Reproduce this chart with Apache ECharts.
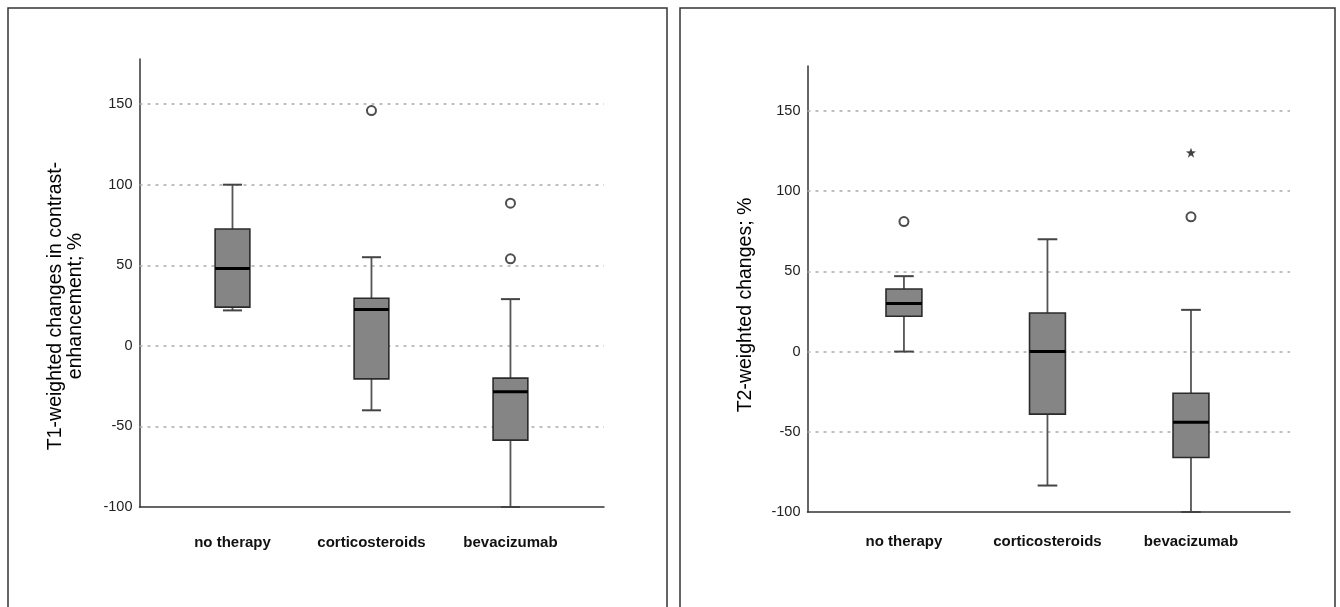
<!DOCTYPE html>
<html>
<head>
<meta charset="utf-8">
<script src="https://cdn.jsdelivr.net/npm/echarts@6/dist/echarts.min.js"></script>
<style>
  html, body { margin: 0; padding: 0; background: #fff; }
  #chart { width: 1340px; height: 607px; }
</style>
</head>
<body>
<div id="chart"></div>
<script>
// ---------- data ----------
const categories = ['no therapy', 'corticosteroids', 'bevacizumab'];
const yTicks = [-100, -50, 0, 50, 100, 150];
const yMin = -100;
const yMax = 178;

// [min whisker, Q1, median, Q3, max whisker]
const t1Stats = [
  [22, 24, 48, 72.5, 100],
  [-40, -20.5, 22.5, 29.5, 55],
  [-100, -58.5, -28.5, -20, 29]
];
const t1Outliers = [[1, 146], [2, 88.5], [2, 54]];

const t2Stats = [
  [0, 22, 30, 39, 47],
  [-83.5, -39, 0, 24, 70],
  [-100, -66, -44, -26, 26]
];
const t2Outliers = [[0, 81], [2, 84]];
const t2Extremes = [[2, 124]];

const t1Title = 'T1-weighted changes in contrast-\nenhancement; %';
const t2Title = 'T2-weighted changes; %';

// ---------- styles ----------
const FONT = '"Liberation Sans", Arial, sans-serif';
const BOX_W = 0.25;
const CAP_W = 0.137;

function renderBox(params, api) {
  const i = api.value(0);
  const x = api.coord([i, 0])[0];
  const py = v => api.coord([i, v])[1];
  const yLo = py(api.value(1)), yQ1 = py(api.value(2)), yMed = py(api.value(3)),
        yQ3 = py(api.value(4)), yHi = py(api.value(5));
  const bw = api.size([BOX_W, 0])[0];
  const cw = api.size([CAP_W, 0])[0];
  const whisker = { stroke: '#555', lineWidth: 1.8 };
  const cap = { stroke: '#444', lineWidth: 2 };
  return {
    type: 'group',
    children: [
      { type: 'line', shape: { x1: x, y1: yHi, x2: x, y2: yQ3 }, style: whisker },
      { type: 'line', shape: { x1: x, y1: yQ1, x2: x, y2: yLo }, style: whisker },
      { type: 'line', shape: { x1: x - cw / 2, y1: yHi, x2: x + cw / 2, y2: yHi }, style: cap },
      { type: 'line', shape: { x1: x - cw / 2, y1: yLo, x2: x + cw / 2, y2: yLo }, style: cap },
      { type: 'rect', shape: { x: x - bw / 2, y: yQ3, width: bw, height: yQ1 - yQ3 },
        style: { fill: '#858585', stroke: '#2b2b2b', lineWidth: 1.6 } },
      { type: 'line', shape: { x1: x - bw / 2, y1: yMed, x2: x + bw / 2, y2: yMed },
        style: { stroke: '#000', lineWidth: 3 } }
    ]
  };
}

function starPath(rOut, rIn) {
  let d = '';
  for (let k = 0; k < 10; k++) {
    const r = k % 2 === 0 ? rOut : rIn;
    const a = -Math.PI / 2 + k * Math.PI / 5;
    d += (k === 0 ? 'M' : 'L') + (r * Math.cos(a)).toFixed(2) + ' ' + (r * Math.sin(a)).toFixed(2) + ' ';
  }
  return 'path://' + d + 'Z';
}

function makeX(gridIndex, min, max, labelMargin) {
  return {
    type: 'value', gridIndex, min, max,
    axisLine: { show: true, onZero: false, lineStyle: { color: '#333', width: 1.5 } },
    axisTick: { show: false, customValues: [0, 1, 2] },
    splitLine: { show: false },
    axisLabel: {
      customValues: [0, 1, 2],
      formatter: v => categories[Math.round(v)] || '',
      margin: labelMargin,
      color: '#111', fontFamily: FONT, fontSize: 15, fontWeight: 'bold'
    }
  };
}

function makeY(gridIndex) {
  return {
    type: 'value', gridIndex, min: yMin, max: yMax,
    axisLine: { show: true, onZero: false, lineStyle: { color: '#333', width: 1.5 } },
    axisTick: { show: false, customValues: yTicks },
    splitLine: { show: false },
    axisLabel: {
      customValues: yTicks,
      margin: 7,
      color: '#222', fontFamily: FONT, fontSize: 14.5
    }
  };
}

function gridMarkLine() {
  return {
    silent: true, symbol: ['none', 'none'], z: 1,
    label: { show: false },
    lineStyle: { type: [3, 5], color: '#aaa', width: 1.5 },
    emphasis: { disabled: true },
    data: yTicks.filter(v => v > yMin).map(v => ({ yAxis: v }))
  };
}

function panelSeries(idx, stats, outliers, extremes) {
  const s = [
    {
      type: 'custom', xAxisIndex: idx, yAxisIndex: idx, z: 3,
      renderItem: renderBox,
      encode: { x: 0, y: [1, 2, 3, 4, 5] },
      data: stats.map((st, i) => [i].concat(st))
    },
    {
      type: 'scatter', xAxisIndex: idx, yAxisIndex: idx, z: 4,
      symbol: 'circle', symbolSize: 9,
      itemStyle: { color: '#fff', borderColor: '#222', borderWidth: 2 },
      data: outliers,
      markLine: gridMarkLine()
    }
  ];
  if (extremes) {
    s.push({
      type: 'scatter', xAxisIndex: idx, yAxisIndex: idx, z: 4,
      symbol: starPath(5, 2), symbolSize: 10,
      itemStyle: { color: '#111' },
      data: extremes
    });
  }
  return s;
}

const chart = echarts.init(document.getElementById('chart'), null, { renderer: 'canvas' });
chart.setOption({
  animation: false,
  backgroundColor: '#fff',
  grid: [
    { left: 139.5, top: 59, width: 464.5, height: 448 },
    { left: 807.5, top: 66, width: 482.5, height: 446 }
  ],
  xAxis: [makeX(0, -0.669, 2.673, 28), makeX(1, -0.672, 2.69, 22)],
  yAxis: [makeY(0), makeY(1)],
  series: [].concat(
    panelSeries(0, t1Stats, t1Outliers, null),
    panelSeries(1, t2Stats, t2Outliers, t2Extremes)
  ),
  graphic: [
    { type: 'rect', shape: { x: 8, y: 8, width: 659, height: 620 }, silent: true,
      style: { fill: 'none', stroke: '#333', lineWidth: 1.5 } },
    { type: 'rect', shape: { x: 680, y: 8, width: 655, height: 620 }, silent: true,
      style: { fill: 'none', stroke: '#333', lineWidth: 1.5 } },
    { type: 'text', x: 66, y: 306, rotation: Math.PI / 2, silent: true,
      style: { text: t1Title, fill: '#000', font: '19.5px ' + FONT, align: 'center',
               verticalAlign: 'middle', lineHeight: 20 } },
    { type: 'text', x: 746, y: 305, rotation: Math.PI / 2, silent: true,
      style: { text: t2Title, fill: '#000', font: '19.5px ' + FONT, align: 'center',
               verticalAlign: 'middle', lineHeight: 20 } }
  ]
});
</script>
</body>
</html>
